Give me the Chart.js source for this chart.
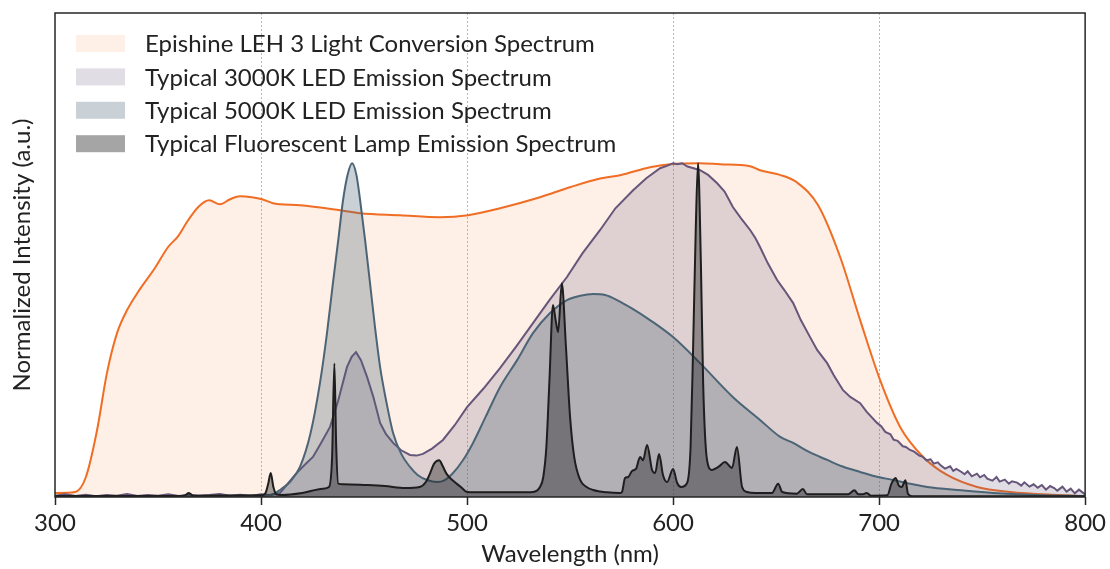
<!DOCTYPE html>
<html>
<head>
<meta charset="utf-8">
<script src="https://cdn.jsdelivr.net/npm/chart.js@4.4.1/dist/chart.umd.min.js"></script>
<style>
html,body{margin:0;padding:0;background:#fff;}
canvas{display:block;}
</style>
</head>
<body>
<canvas id="c" width="1110" height="569"></canvas>
<script>
// ---------------- DATA ----------------
const seriesNames = [
  "Epishine LEH 3 Light Conversion Spectrum",
  "Typical 3000K LED Emission Spectrum",
  "Typical 5000K LED Emission Spectrum",
  "Typical Fluorescent Lamp Emission Spectrum"
];
const xTicks = [300, 400, 500, 600, 700, 800];

const epiX = [300,309.7,315,320.4,325.2,330.1,335,340.3,348.5,354.9,359.7,364.6,369.9,374.8,380.1,385,389.8,395.6,400.5,405.8,409.2,418.9,438.3,448.1,467.5,486.9,500.5,516,535.4,550,564.6,574.3,588.8,598.5,613.1,622.8,637.4,642.2,651.9,660.2,670.4,681.1,690.8,700.5,710.2,721.4,733,747.6,763.6,787.9,800];
const epiY = [0.012,0.015,0.06,0.2,0.371,0.491,0.56,0.614,0.686,0.749,0.781,0.829,0.871,0.889,0.877,0.892,0.901,0.898,0.892,0.880,0.877,0.874,0.859,0.85,0.844,0.838,0.844,0.865,0.898,0.928,0.954,0.964,0.988,0.997,1.0,0.997,0.991,0.979,0.965,0.942,0.874,0.719,0.530,0.350,0.210,0.120,0.066,0.030,0.015,0.006,0.003];

const led3X = [300,305,310,315,320,325,330,335,340,345,350,355,360,365,370,375,380,385,390,395,400,404,409.2,413,417,421,425.2,429,433.5,437.5,441.7,444,446.1,448.5,451.5,454.5,457.8,460.5,464.1,468,472.3,475.5,478.6,483,488.3,494,500,508,516,524,532,540,548.5,556,564.6,572,580.6,587,593.7,597,600,602,604.4,607,610,613.1,617,621.4,625,629.1,633,637.4,640,642.2,646,650.5,654,658.3,662,666.5,670,674.8,678,682.5,686,690.8,694,699,701,703,705.5,707,709,711.5,713,715,717,719.5,721,723,725,726.5,728.5,730,732,734.5,736,737.5,740,741.5,743,745,747.5,749,751,752.5,755,757,758.5,761,763,764.5,767,769,770.5,773,775,777,779,781,783,785,786.5,789,791,793,795,797,800];
const led3Y = [0.004,0.008,0.003,0.007,0.002,0.006,0.004,0.009,0.003,0.006,0.004,0.008,0.003,0.007,0.004,0.006,0.009,0.004,0.007,0.003,0.008,0.006,0.012,0.04,0.07,0.095,0.12,0.16,0.21,0.29,0.389,0.42,0.434,0.41,0.359,0.30,0.222,0.19,0.162,0.14,0.126,0.124,0.129,0.145,0.171,0.215,0.269,0.325,0.386,0.452,0.521,0.59,0.659,0.73,0.8,0.865,0.919,0.955,0.985,0.992,1.0,0.997,1.0,0.99,0.985,0.979,0.965,0.94,0.915,0.868,0.835,0.8,0.775,0.749,0.70,0.65,0.62,0.581,0.53,0.479,0.44,0.401,0.365,0.32,0.30,0.281,0.255,0.222,0.212,0.195,0.188,0.172,0.168,0.152,0.150,0.141,0.136,0.124,0.121,0.110,0.113,0.100,0.104,0.094,0.085,0.092,0.078,0.084,0.075,0.068,0.077,0.062,0.070,0.059,0.066,0.055,0.049,0.060,0.046,0.052,0.040,0.047,0.043,0.034,0.044,0.031,0.038,0.028,0.036,0.022,0.033,0.027,0.019,0.031,0.016,0.025,0.011,0.022,0.008,0.019,0.013,0.021,0.012,0.017];

const led5X = [300,350,400,405,409.2,414,418.9,424,428.6,432,434.9,437.5,439.8,442,444.2,446.3,448.1,450.5,452.9,455.3,457.8,461,464.1,468,472.3,476,480.6,485.4,489,493.2,498,502.9,509,516,524.3,532,540.3,548.5,555,561.2,567,572.8,580,588.8,600,613.1,629.1,642.2,652,658.3,666,674.8,682,690.8,698,706.8,715,723.3,740,755.3,775,800];
const led5Y = [0.002,0.002,0.003,0.006,0.021,0.045,0.09,0.19,0.341,0.49,0.641,0.77,0.889,0.965,1.0,0.965,0.889,0.77,0.641,0.51,0.389,0.28,0.192,0.13,0.09,0.066,0.051,0.045,0.05,0.072,0.11,0.162,0.24,0.329,0.41,0.491,0.551,0.59,0.603,0.608,0.605,0.59,0.565,0.53,0.479,0.401,0.299,0.231,0.18,0.162,0.135,0.111,0.092,0.075,0.062,0.051,0.04,0.030,0.02,0.012,0.006,0.003];

const fluoX = [300,360,363,365,367,400,402,403.5,404.7,406,407.5,410,420,430,433,434.5,435.6,436.5,437.5,440,450,460,470,477,480,482,484,486.5,488,490,493,497,500,510,525,532,535.4,537,538.5,540,541.7,543,544.2,546,548,550,552,554.9,558,561.2,568,574.3,575.2,576.7,578.2,580.1,582,584,585.4,587.4,589.8,591.3,593.2,595.1,597.1,600,602,603.9,606.8,608.5,609.7,611,612.1,613.5,614.6,616.5,618.9,622,625.2,628.6,631,633.5,635.9,640,648,651,653,660,663,665,685,688,690,692,694,696,704,706,708,709.5,711,712.8,714,716,800];
const fluoY = [0.003,0.003,0.005,0.012,0.004,0.005,0.01,0.04,0.072,0.03,0.008,0.006,0.012,0.025,0.03,0.12,0.40,0.15,0.04,0.038,0.036,0.033,0.027,0.03,0.045,0.07,0.1,0.11,0.095,0.07,0.05,0.03,0.015,0.014,0.014,0.015,0.03,0.06,0.15,0.35,0.575,0.53,0.494,0.64,0.45,0.24,0.12,0.051,0.03,0.021,0.014,0.012,0.015,0.057,0.06,0.078,0.084,0.12,0.11,0.156,0.081,0.072,0.129,0.066,0.045,0.084,0.042,0.03,0.042,0.15,0.44,0.8,1.0,0.7,0.34,0.11,0.081,0.09,0.105,0.087,0.15,0.03,0.015,0.012,0.012,0.04,0.015,0.01,0.024,0.008,0.008,0.02,0.008,0.008,0.012,0.004,0.005,0.04,0.057,0.035,0.03,0.05,0.01,0.002,0.002];

// ---------------- STYLE ----------------
const lineColors = ['#f06d24', '#66567a', '#4b6577', '#1e1e1e'];
const fillColors = ['rgba(243,112,33,0.11)', 'rgba(102,86,122,0.2)', 'rgba(75,101,119,0.3)', 'rgba(30,30,30,0.4)'];
const FONT = 'Lato';
const TEXT = '#222222';
const FS = 24;

function pts(xs, ys) { return xs.map((x, i) => ({x: x, y: ys[i]})); }
const xs = [epiX, led3X, led5X, fluoX];
const ys = [epiY, led3Y, led5Y, fluoY];

const datasets = seriesNames.map((name, i) => ({
  label: name,
  data: pts(xs[i], ys[i]),
  borderColor: lineColors[i],
  backgroundColor: fillColors[i],
  borderWidth: 2,
  fill: 'origin',
  pointRadius: 0,
  cubicInterpolationMode: i === 1 ? 'default' : 'monotone',
  tension: i === 1 ? 0 : 0.4,
  order: 3 - i
}));

const insideLegend = {
  id: 'insideLegend',
  afterDatasetsDraw(chart) {
    const ctx = chart.ctx, a = chart.chartArea;
    ctx.save();
    ctx.font = FS + 'px ' + FONT;
    ctx.textBaseline = 'middle';
    seriesNames.forEach((name, i) => {
      const top = a.top + 22 + i * 33.4;
      ctx.fillStyle = fillColors[i];
      ctx.fillRect(a.left + 21, top, 49, 17);
      ctx.fillStyle = TEXT;
      ctx.fillText(name, a.left + 90, top + 9.5);
    });
    ctx.restore();
  }
};
const frame = {
  id: 'frame',
  afterDraw(chart) {
    const ctx = chart.ctx, a = chart.chartArea;
    ctx.save();
    ctx.strokeStyle = '#262626';
    ctx.lineWidth = 1.5;
    ctx.strokeRect(a.left, a.top, a.right - a.left, a.bottom - a.top);
    ctx.restore();
  }
};

new Chart(document.getElementById('c'), {
  type: 'line',
  data: { datasets: datasets },
  options: {
    responsive: false,
    animation: false,
    layout: { padding: { top: 13, right: 24, left: 0, bottom: 0 } },
    plugins: { legend: { display: false }, tooltip: { enabled: false } },
    scales: {
      x: {
        type: 'linear',
        min: 300, max: 800,
        afterBuildTicks(s) { s.ticks = xTicks.map(v => ({value: v})); },
        afterFit(s) { s.height = 72; },
        ticks: { font: { family: FONT, size: FS }, color: TEXT, padding: 4, maxRotation: 0, autoSkip: false },
        grid: {
          color: c => (c.tick && c.tick.value > 300 && c.tick.value < 800) ? '#b8b8b8' : 'rgba(0,0,0,0)',
          lineWidth: 1,
          tickColor: '#262626',
          tickWidth: 1.5,
          tickLength: 8,
          drawTicks: true
        },
        border: { display: false, dash: [2, 2] },
        title: { display: true, text: 'Wavelength (nm)', font: { family: FONT, size: FS }, color: TEXT, padding: { top: 0, bottom: 0 } }
      },
      y: {
        type: 'linear',
        min: 0, max: 1.45,
        afterFit(s) { s.width = 55; },
        ticks: { display: false },
        grid: { display: false },
        border: { display: false },
        title: { display: true, text: 'Normalized Intensity (a.u.)', font: { family: FONT, size: FS }, color: TEXT, padding: { top: 8, bottom: 0 } }
      }
    }
  },
  plugins: [insideLegend, frame]
});
</script>
</body>
</html>
